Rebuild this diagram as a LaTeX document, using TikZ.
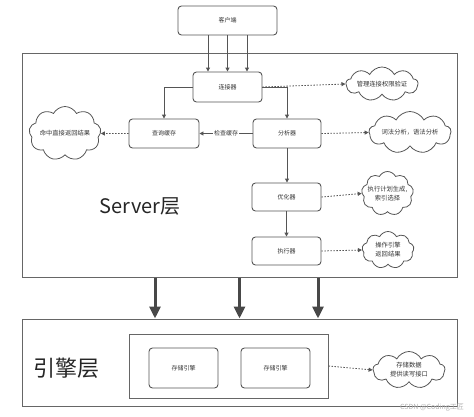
\documentclass[tikz,border=0pt]{standalone}
\usepackage{fontspec}
\setmainfont{Noto Sans CJK SC}
\usetikzlibrary{shapes.symbols,arrows.meta,calc}
\definecolor{ln}{HTML}{555555}
\definecolor{tx}{HTML}{333333}
\begin{document}
\begin{tikzpicture}[x=1pt,y=-1pt,
  box/.style={draw=ln, line width=0.9pt, rounded corners=3.5pt, text=tx,
    font=\fontsize{6}{7}\selectfont, inner sep=0pt},
  frame/.style={draw=ln!90, line width=1pt, inner sep=0pt},
  cld/.style={cloud, cloud puffs=9, cloud puff arc=125, cloud ignores aspect, draw=ln, line width=0.8pt,
    inner sep=0pt},
  ctext/.style={text=tx, font=\fontsize{6.3}{9}\selectfont, align=center, inner sep=0pt},
  arr/.style={draw=ln, line width=0.9pt, -{Triangle[length=4pt,width=4pt]}},
  dotarr/.style={draw=ln, line width=0.8pt, dash pattern=on 1.5pt off 1.5pt,
    -{Triangle[length=4pt,width=4pt]}},
  bigarr/.style={draw=ln!85!black, line width=3pt, -{Triangle[length=12pt,width=11pt]}},
]
\useasboundingbox (0,0) rectangle (474,416);
% outer frames
\node[frame, minimum width=435pt, minimum height=224pt] (server) at (239.5,165) {};
\node[frame, minimum width=435pt, minimum height=87pt] (engine) at (239.5,362.5) {};
\node[frame, minimum width=199pt, minimum height=64pt] (inner) at (228.5,366) {};
% boxes
\node[box, minimum width=99pt, minimum height=29pt] (client) at (227.5,20.5) {客户端};
\node[box, minimum width=69pt, minimum height=30pt] (conn) at (227.5,87) {连接器};
\node[box, minimum width=70pt, minimum height=29pt] (query) at (164,133.5) {查询缓存};
\node[box, minimum width=68pt, minimum height=29pt] (ana) at (287,133.5) {分析器};
\node[box, minimum width=69pt, minimum height=28pt] (opt) at (286.5,197) {优化器};
\node[box, minimum width=69pt, minimum height=28pt] (exe) at (286.5,251) {执行器};
\node[box, minimum width=69pt, minimum height=40pt] (se1) at (183.5,368) {存储引擎};
\node[box, minimum width=69pt, minimum height=40pt] (se2) at (275.5,368) {存储引擎};
% clouds
\node[cld, minimum width=72pt, minimum height=34pt] (c1) at (382,84) {};
\node[ctext] (c1t) at (c1) {管理连接权限验证};
\node[cld, minimum width=72pt, minimum height=54pt] (c0) at (65,133.5) {};
\node[ctext] (c0t) at (c0) {命中直接返回结果};
\node[cld, minimum width=82pt, minimum height=42pt] (c2) at (410,132.5) {};
\node[ctext] (c2t) at (c2) {词法分析，语法分析};
\node[cld, minimum width=52pt, minimum height=44pt] (c3) at (387.5,193.5) {};
\node[ctext] (c3t) at (c3) {执行计划生成,\\索引选择};
\node[cld, minimum width=52pt, minimum height=37pt] (c4) at (388,250) {};
\node[ctext] (c4t) at (c4) {操作引擎\\返回结果};
\node[cld, minimum width=72pt, minimum height=37pt] (c5) at (409,370) {};
\node[ctext] (c5t) at (c5) {存储数据\\提供读写接口};
% labels
\node[text=black!85, font=\fontsize{20}{22}\selectfont, inner sep=0pt] (slabel) at (140,206) {Server层};
\node[text=black!85, font=\fontsize{22}{24}\selectfont, inner sep=0pt] (elabel) at (66,368) {引擎层};
\node[text=black!30, font=\fontsize{7}{8}\selectfont, inner sep=0pt] (wm) at (432,408) {CSDN @Coding工匠};
% client to connector
\foreach \dx in {-19.5,0,19.5}
  \draw[arr] ([xshift=\dx pt]client.south) -- ([xshift=\dx pt]conn.north);
% connector branches
\draw[arr] (conn.west) -| (query.north);
\draw[arr] (conn.east) -| (ana.north);
\draw[dotarr] (conn.east) -- (c1.west);
\draw[arr] (ana.west) -- node[fill=white, inner sep=1pt, text=tx, font=\fontsize{6}{7}\selectfont] (chk) {检查缓存} (query.east);
\draw[dotarr] (query.west) -- (c0.east);
\draw[dotarr] (ana.east) -- (c2.west);
\draw[arr] (ana.south) -- (ana.south |- opt.north);
\draw[arr] (opt.south) -- (opt.south |- exe.north);
\draw[dotarr] (opt.east) -- (c3.west);
\draw[dotarr] (exe.east) -- (c4.west);
\draw[dotarr] (inner.east) -- (c5.west);
% big arrows
\draw[bigarr] ([xshift=-84.5pt]server.south) -- ([xshift=-84.5pt]engine.north);
\draw[bigarr] (server.south) -- (engine.north);
\draw[bigarr] ([xshift=78.5pt]server.south) -- ([xshift=78.5pt]engine.north);
\end{tikzpicture}
\end{document}
